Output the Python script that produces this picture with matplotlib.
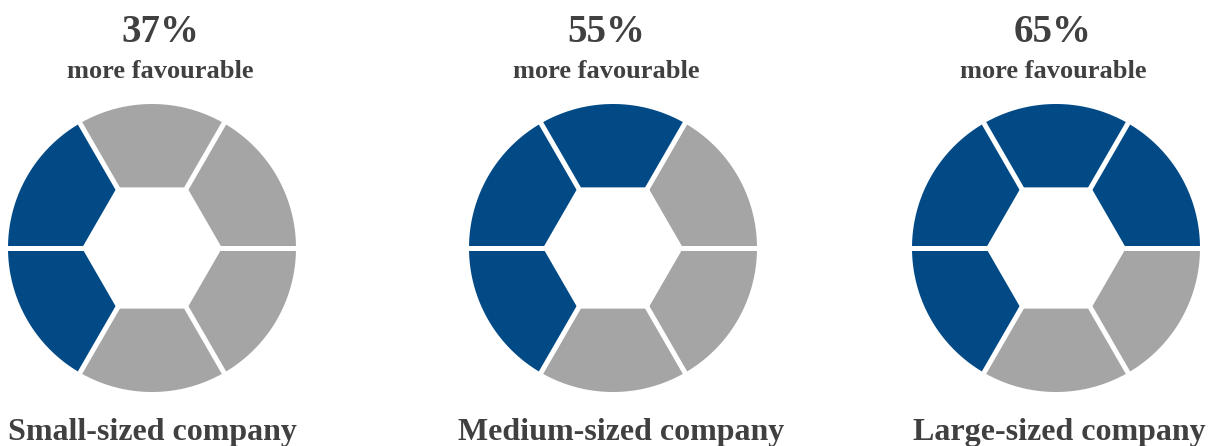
import numpy as np
import matplotlib.pyplot as plt
from matplotlib.patches import Polygon

# share of respondents rating the company "more favourable"
companies = ["Small-sized company", "Medium-sized company", "Large-sized company"]
shares = [37, 55, 65]
subtitle = "more favourable"

BLUE = "#024a86"
GREY = "#a5a5a5"
TEXT = "#404040"
N_SEG = 6

centers_x = [152, 613, 1056]
label_x = [152, 621, 1059]
pct_x = [160, 606, 1053]
CY = 248
R_OUT = 144
R_IN = 70

fig = plt.figure(figsize=(12.22, 4.46), dpi=100)
ax = fig.add_axes([0, 0, 1, 1])
ax.set_xlim(0, 1222)
ax.set_ylim(446, 0)
ax.set_aspect("equal")
ax.axis("off")

font = dict(family="Liberation Serif", weight="bold", color=TEXT)


def segment(cx, cy, a0, a1):
    # outer arc between a0 and a1, closed by the inner hexagon edge
    t = np.radians(np.linspace(a0, a1, 60))
    outer = np.column_stack([cx + R_OUT * np.cos(t), cy - R_OUT * np.sin(t)])
    inner = np.array([[cx + R_IN * np.cos(np.radians(a1)), cy - R_IN * np.sin(np.radians(a1))],
                      [cx + R_IN * np.cos(np.radians(a0)), cy - R_IN * np.sin(np.radians(a0))]])
    return np.vstack([outer, inner])


for cx, lx, px, name, share in zip(centers_x, label_x, pct_x, companies, shares):
    n_blue = round(share / 100 * N_SEG)
    # blue fills from the lower-left segment going clockwise
    blue_idx = [(3 - k) % N_SEG for k in range(n_blue)]
    for i in range(N_SEG):
        a0, a1 = i * 60, (i + 1) * 60
        col = BLUE if i in blue_idx else GREY
        ax.add_patch(Polygon(segment(cx, CY, a0, a1), closed=True,
                             facecolor=col, edgecolor="none"))
    # white gaps along the spokes
    for i in range(N_SEG):
        a = np.radians(i * 60)
        ax.plot([cx + (R_IN - 2) * np.cos(a), cx + (R_OUT + 4) * np.cos(a)],
                [CY - (R_IN - 2) * np.sin(a), CY - (R_OUT + 4) * np.sin(a)],
                color="white", lw=3.6, solid_capstyle="butt")

    ax.text(px, 42, f"{share}%", ha="center", va="baseline", fontsize=28, **font)
    ax.text(px, 78, subtitle, ha="center", va="baseline", fontsize=19, **font)
    ax.text(lx, 440, name, ha="center", va="baseline", fontsize=23, **font)

fig.savefig("out.png", dpi=100)
